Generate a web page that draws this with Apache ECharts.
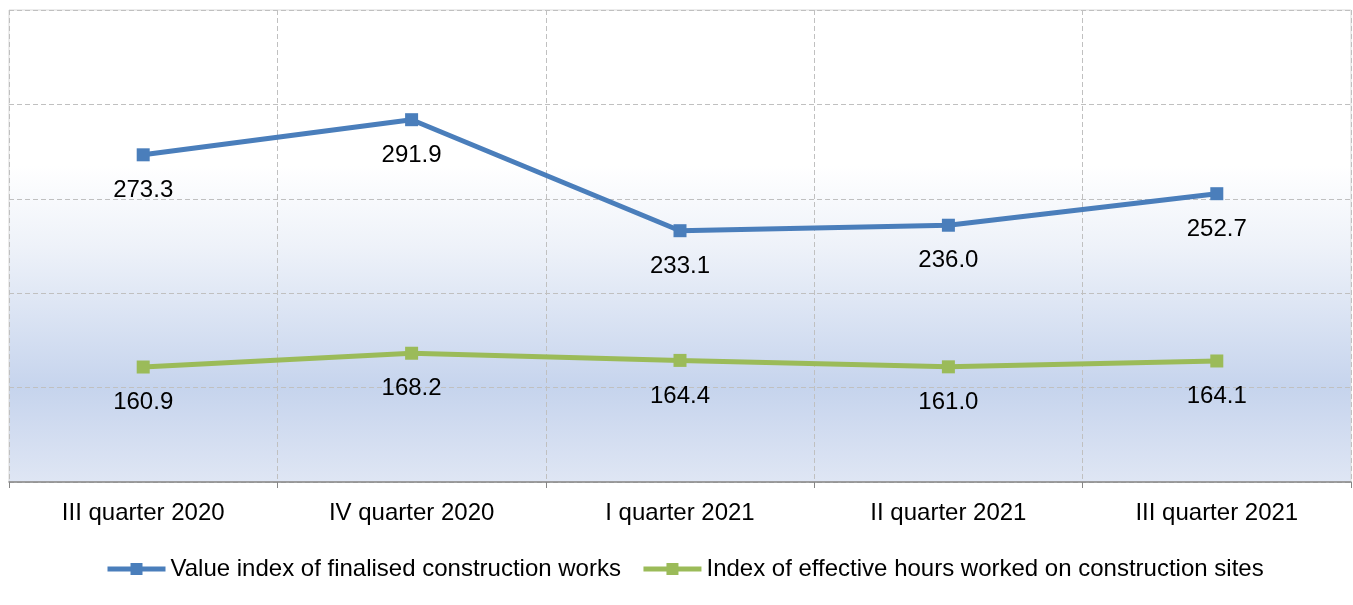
<!DOCTYPE html>
<html>
<head>
<meta charset="utf-8">
<script src="https://cdn.jsdelivr.net/npm/echarts@6/dist/echarts.min.js"></script>
<style>html,body{margin:0;padding:0;background:#fff}#c{width:1353px;height:605px}</style>
</head>
<body>
<div id="c"></div>
<script>
var categories = ['III quarter 2020', 'IV quarter 2020', 'I quarter 2021', 'II quarter 2021', 'III quarter 2021'];
var valueIndex = [273.3, 291.9, 233.1, 236.0, 252.7];
var hoursIndex = [160.9, 168.2, 164.4, 161.0, 164.1];
var seriesNames = ['Value index of finalised construction works', 'Index of effective hours worked on construction sites'];
var colors = ['#4a7ebb', '#9bbb59'];

var FONT = '"Liberation Sans", Arial, sans-serif';
var chart = echarts.init(document.getElementById('c'), null, {renderer: 'canvas'});
function mk(name, data, color) {
  return {
    name: name, type: 'line', data: data,
    symbol: 'rect', symbolSize: 13,
    lineStyle: {color: color, width: 5},
    itemStyle: {color: color},
    label: {show: true, position: 'bottom', distance: 17, color: '#000', fontSize: 24, fontFamily: FONT,
      formatter: function (p) { return p.value.toFixed(1); }},
    emphasis: {disabled: true},
    animation: false
  };
}
chart.setOption({
  animation: false,
  grid: {
    left: 9, right: 2, top: 10, bottom: 123,
    show: true, borderColor: '#d9d9d9', borderWidth: 1,
    backgroundColor: {type: 'linear', x: 0, y: 0, x2: 0, y2: 1, colorStops: [
      {offset: 0, color: '#ffffff'},
      {offset: 0.33, color: '#ffffff'},
      {offset: 0.5, color: '#eef2f9'},
      {offset: 0.8, color: '#c6d4ed'},
      {offset: 1, color: '#dfe6f4'}
    ]}
  },
  legend: {
    top: 552, left: 100, itemWidth: 58, itemHeight: 15, itemGap: 20,
    textStyle: {fontSize: 24, fontFamily: FONT, color: '#000'},
    lineStyle: {width: 5},
    data: seriesNames.map(function (n, i) {
      return {name: n, lineStyle: {color: colors[i], width: 5}, itemStyle: {color: colors[i]}};
    })
  },
  xAxis: {
    type: 'category', data: categories, boundaryGap: true,
    axisLine: {lineStyle: {color: '#868686', width: 1.5}},
    axisTick: {show: true, length: 6, lineStyle: {color: '#868686'}},
    axisLabel: {fontSize: 24, fontFamily: FONT, color: '#000', margin: 19},
    splitLine: {show: true, lineStyle: {color: '#c0c0c0', type: [5, 3]}}
  },
  yAxis: {
    type: 'value', min: 100, max: 350, interval: 50,
    axisLine: {show: false}, axisTick: {show: false}, axisLabel: {show: false},
    splitLine: {show: true, lineStyle: {color: '#c0c0c0', type: [5, 3]}}
  },
  series: [mk(seriesNames[0], valueIndex, colors[0]), mk(seriesNames[1], hoursIndex, colors[1])]
});
</script>
</body>
</html>
